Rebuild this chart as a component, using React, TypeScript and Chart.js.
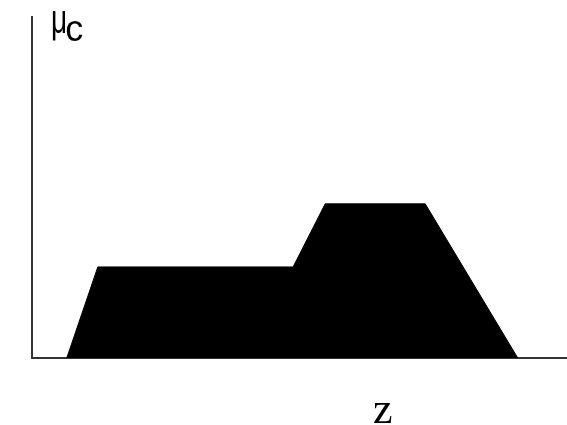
import React, { useEffect, useRef } from "react";
import { Chart, registerables } from "chart.js";

Chart.register(...registerables);

// Aggregated membership function (z, μc)
const zValues = [0.65, 1.23, 4.88, 5.48, 7.35, 9.08];
const muValues = [0, 0.267, 0.267, 0.452, 0.452, 0];
const yLabel = "μ";
const ySub = "c";
const xLabel = "z";

const labelPlugin = {
  id: "labels",
  afterDraw(chart: any) {
    const ctx = chart.ctx;
    ctx.save();
    ctx.fillStyle = "#000";
    ctx.textBaseline = "alphabetic";
    ctx.textAlign = "left";
    ctx.font = "40px 'Liberation Sans', Arial, sans-serif";
    ctx.save();
    ctx.translate(51, 33);
    ctx.scale(0.7, 1);
    ctx.fillText(yLabel, 0, 0);
    const w = ctx.measureText(yLabel).width * 0.7;
    ctx.restore();
    ctx.font = "36px 'Liberation Sans', Arial, sans-serif";
    ctx.fillText(ySub, 51 + w - 2, 41);
    ctx.font = "44px 'Liberation Serif', 'Times New Roman', serif";
    ctx.fillText(xLabel, 373, 423);
    ctx.restore();
  },
};

export default function App() {
  const ref = useRef<HTMLCanvasElement>(null);
  useEffect(() => {
    if (!ref.current) return;
    const chart = new Chart(ref.current, {
      type: "line",
      data: {
        datasets: [
          {
            data: zValues.map((x, i) => ({ x, y: muValues[i] })),
            borderColor: "#000",
            backgroundColor: "#000",
            borderWidth: 1,
            fill: "origin",
            pointRadius: 0,
            tension: 0,
          },
        ],
      },
      options: {
        animation: false,
        responsive: false,
        maintainAspectRatio: false,
        layout: { padding: { left: 24, top: 17, right: 0, bottom: 59 } },
        plugins: { legend: { display: false }, tooltip: { enabled: false } },
        scales: {
          x: {
            type: "linear",
            min: 0,
            max: 10,
            grid: { display: false },
            ticks: { display: false },
            border: { display: true, color: "#333", width: 2 },
          },
          y: {
            min: 0,
            max: 1,
            grid: { display: false },
            ticks: { display: false },
            border: { display: true, color: "#333", width: 2 },
          },
        },
      },
      plugins: [labelPlugin],
    });
    return () => chart.destroy();
  }, []);
  return (
    <div style={{ position: "fixed", left: 0, top: 0, width: 567, height: 425, background: "#fff" }}>
      <canvas ref={ref} width={567} height={425} style={{ display: "block" }} />
    </div>
  );
}
